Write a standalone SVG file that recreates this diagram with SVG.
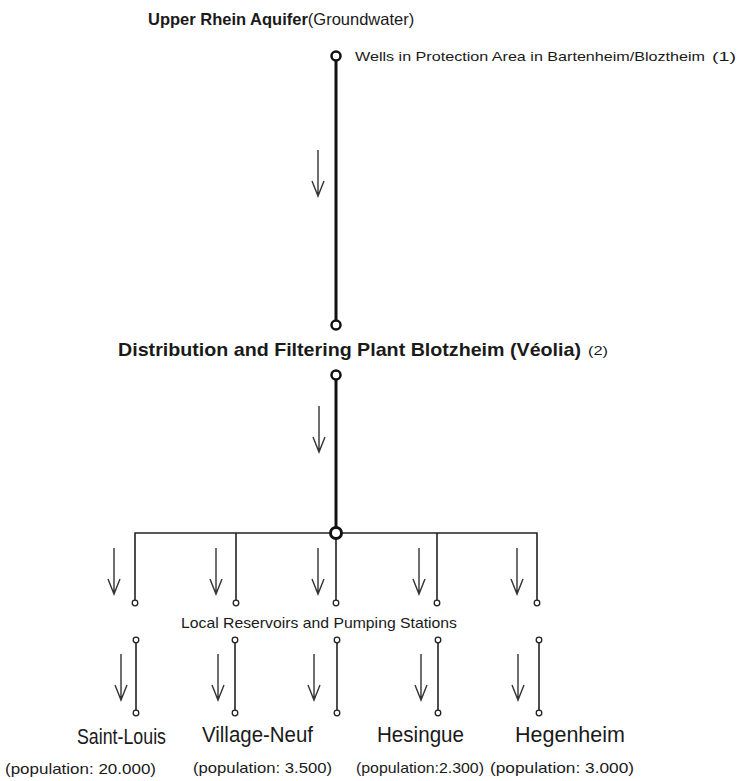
<svg xmlns="http://www.w3.org/2000/svg" width="738" height="781" viewBox="0 0 738 781">
<style>
text{font-family:"Liberation Sans",Arial,sans-serif;fill:#1a1a1a}
.b{font-weight:bold}
.main{stroke:#111;stroke-width:3;fill:none}
.br{stroke:#222;stroke-width:1.6;fill:none}
.bigc{fill:#fff;stroke:#111;stroke-width:2.5}
.jc{fill:#fff;stroke:#111;stroke-width:3}
.sc{fill:#fff;stroke:#222;stroke-width:1.3}
.arr{stroke:#333;stroke-width:1.4;fill:none}
</style>
<defs>
<path id="a" class="arr" d="M0,0 V46 M-6,31 L0,46 L6,31"/>
</defs>
<g id="connectors">
<line class="main" x1="336" y1="60" x2="336" y2="320"/>
<line class="main" x1="336" y1="380" x2="336" y2="528"/>
<polyline class="br" points="135,602 135,533 537,533 537,602"/>
<line class="br" x1="236" y1="533" x2="236" y2="602"/>
<line class="br" x1="336" y1="533" x2="336" y2="602"/>
<line class="br" x1="437" y1="533" x2="437" y2="602"/>
<line class="br" x1="136" y1="640" x2="136" y2="713"/>
<line class="br" x1="235" y1="640" x2="235" y2="713"/>
<line class="br" x1="337" y1="640" x2="337" y2="713"/>
<line class="br" x1="438" y1="640" x2="438" y2="713"/>
<line class="br" x1="539" y1="640" x2="539" y2="713"/>
<use href="#a" x="318" y="150"/>
<use href="#a" x="319" y="406"/>
<use href="#a" x="114" y="548"/>
<use href="#a" x="216" y="548"/>
<use href="#a" x="318" y="548"/>
<use href="#a" x="419" y="548"/>
<use href="#a" x="517" y="548"/>
<use href="#a" x="121" y="654"/>
<use href="#a" x="218" y="654"/>
<use href="#a" x="314" y="654"/>
<use href="#a" x="421" y="654"/>
<use href="#a" x="518" y="654"/>
</g>
<g id="aquifer">
<text x="148" y="25" font-size="16.5"><tspan class="b">Upper Rhein Aquifer</tspan>(Groundwater)</text>
</g>
<g id="wells">
<circle class="bigc" cx="336" cy="56" r="4.5"/>
<text x="355" y="61" font-size="13.5" textLength="350" lengthAdjust="spacingAndGlyphs">Wells in Protection Area in Bartenheim/Bloztheim</text>
<text x="712" y="61" font-size="13.5" textLength="24" lengthAdjust="spacingAndGlyphs">(1)</text>
</g>
<g id="plant">
<circle class="bigc" cx="336" cy="325" r="4.5"/>
<circle class="bigc" cx="336" cy="375" r="4.5"/>
<text class="b" x="118" y="356" font-size="18.5" textLength="463" lengthAdjust="spacingAndGlyphs">Distribution and Filtering Plant Blotzheim (Véolia)</text>
<text x="588" y="355" font-size="13" textLength="20" lengthAdjust="spacingAndGlyphs">(2)</text>
</g>
<g id="junction">
<circle class="jc" cx="336" cy="533" r="5.5"/>
</g>
<g id="reservoirs">
<circle class="sc" cx="135" cy="603" r="2.8"/>
<circle class="sc" cx="236" cy="603" r="2.8"/>
<circle class="sc" cx="336" cy="603" r="2.8"/>
<circle class="sc" cx="437" cy="603" r="2.8"/>
<circle class="sc" cx="537" cy="603" r="2.8"/>
<circle class="sc" cx="136" cy="640" r="2.8"/>
<circle class="sc" cx="235" cy="640" r="2.8"/>
<circle class="sc" cx="337" cy="640" r="2.8"/>
<circle class="sc" cx="438" cy="640" r="2.8"/>
<circle class="sc" cx="539" cy="640" r="2.8"/>
<text x="181" y="628" font-size="14.5" textLength="276" lengthAdjust="spacingAndGlyphs">Local Reservoirs and Pumping Stations</text>
</g>
<g id="saint-louis">
<circle class="sc" cx="136" cy="713" r="2.8"/>
<text x="77" y="744" font-size="21.5" textLength="89" lengthAdjust="spacingAndGlyphs">Saint-Louis</text>
<text x="5" y="774" font-size="14.5" textLength="151" lengthAdjust="spacingAndGlyphs">(population: 20.000)</text>
</g>
<g id="village-neuf">
<circle class="sc" cx="235" cy="713" r="2.8"/>
<circle class="sc" cx="337" cy="713" r="2.8"/>
<text x="202" y="742" font-size="21.5" textLength="111" lengthAdjust="spacingAndGlyphs">Village-Neuf</text>
<text x="193" y="773" font-size="14.5" textLength="139" lengthAdjust="spacingAndGlyphs">(population: 3.500)</text>
</g>
<g id="hesingue">
<circle class="sc" cx="438" cy="713" r="2.8"/>
<text x="377" y="742" font-size="21.5" textLength="87" lengthAdjust="spacingAndGlyphs">Hesingue</text>
<text x="356" y="773" font-size="14.5" textLength="128" lengthAdjust="spacingAndGlyphs">(population:2.300)</text>
</g>
<g id="hegenheim">
<circle class="sc" cx="539" cy="713" r="2.8"/>
<text x="515" y="742" font-size="21.5" textLength="110" lengthAdjust="spacingAndGlyphs">Hegenheim</text>
<text x="490" y="773" font-size="14.5" textLength="144" lengthAdjust="spacingAndGlyphs">(population: 3.000)</text>
</g>
</svg>
